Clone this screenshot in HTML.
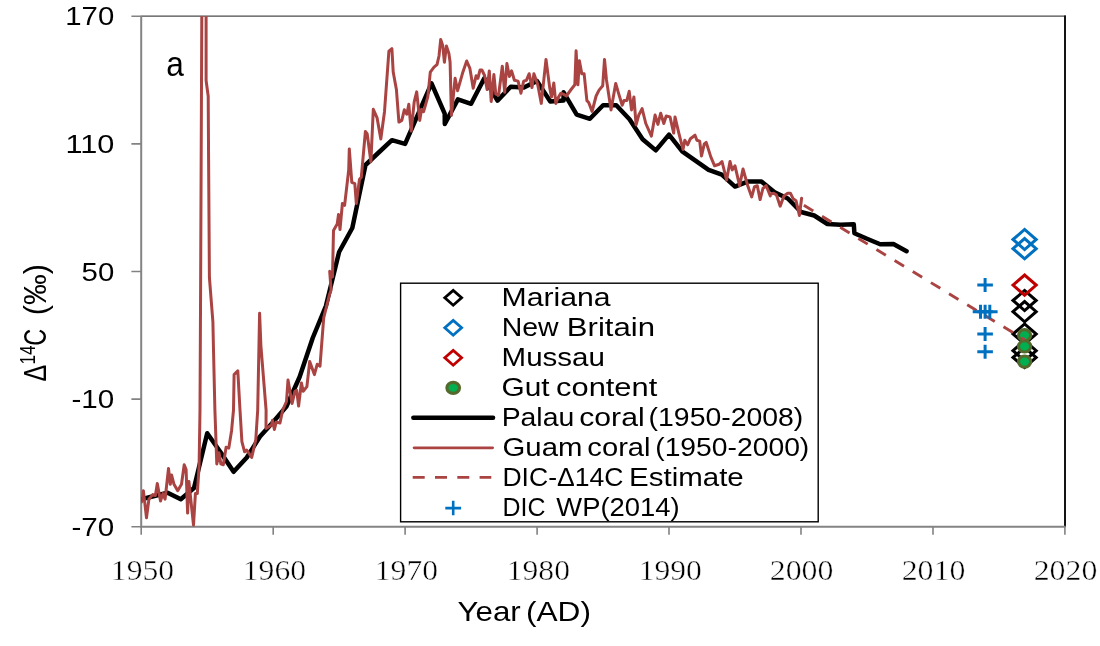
<!DOCTYPE html>
<html lang="en"><head><meta charset="utf-8"><title>Radiocarbon chart</title>
<style>html,body{margin:0;padding:0;background:#fff;overflow:hidden}svg{display:block;will-change:transform}.s{font-family:'Liberation Sans', sans-serif;fill:#000}.x{font-family:'Liberation Serif', serif;fill:#000;stroke:#fff;stroke-width:.45px}</style></head><body>
<svg width="1100" height="646" viewBox="0 0 1100 646">
<rect width="1100" height="646" fill="#fff"/>
<defs><clipPath id="pc"><rect x="141.2" y="16.3" width="923.7" height="510.4"/></clipPath></defs>
<path d="M141.2,16.2 H1065.8" fill="none" stroke="#4a4a4a" stroke-width="1.3"/>
<path d="M1065.0,15.6 V526.7" fill="none" stroke="#141414" stroke-width="2"/>
<path d="M141.2,15.7 V526.7 H1065.5" fill="none" stroke="#848484" stroke-width="2"/>
<path d="M131.4,16.3 H141.2 M131.4,143.9 H141.2 M131.4,271.5 H141.2 M131.4,399.1 H141.2 M131.4,526.7 H141.2 M141.2,526.7 V534.7 M273.2,526.7 V534.7 M405.1,526.7 V534.7 M537.1,526.7 V534.7 M669.0,526.7 V534.7 M801.0,526.7 V534.7 M933.0,526.7 V534.7 M1064.9,526.7 V534.7" fill="none" stroke="#828282" stroke-width="1.6"/>
<text class="s" y="25.34" font-size="26.01"><tspan x="65.30" textLength="48.93" lengthAdjust="spacingAndGlyphs">170</tspan></text>
<text class="s" y="152.94" font-size="26.01"><tspan x="65.40" textLength="48.91" lengthAdjust="spacingAndGlyphs">110</tspan></text>
<text class="s" y="280.54" font-size="26.01"><tspan x="81.63" textLength="32.64" lengthAdjust="spacingAndGlyphs">50</tspan></text>
<text class="s" y="408.14" font-size="26.01"><tspan x="71.47" textLength="42.75" lengthAdjust="spacingAndGlyphs">-10</tspan></text>
<text class="s" y="535.74" font-size="26.01"><tspan x="71.47" textLength="42.75" lengthAdjust="spacingAndGlyphs">-70</tspan></text>
<text class="x" y="579.91" font-size="28.59"><tspan x="110.83" textLength="63.25" lengthAdjust="spacingAndGlyphs">1950</tspan></text>
<text class="x" y="579.91" font-size="28.59"><tspan x="242.79" textLength="63.25" lengthAdjust="spacingAndGlyphs">1960</tspan></text>
<text class="x" y="579.91" font-size="28.59"><tspan x="374.75" textLength="63.25" lengthAdjust="spacingAndGlyphs">1970</tspan></text>
<text class="x" y="579.91" font-size="28.59"><tspan x="506.71" textLength="63.25" lengthAdjust="spacingAndGlyphs">1980</tspan></text>
<text class="x" y="579.91" font-size="28.59"><tspan x="638.67" textLength="63.25" lengthAdjust="spacingAndGlyphs">1990</tspan></text>
<text class="x" y="579.91" font-size="28.59"><tspan x="769.75" textLength="63.65" lengthAdjust="spacingAndGlyphs">2000</tspan></text>
<text class="x" y="579.91" font-size="28.59"><tspan x="901.71" textLength="63.65" lengthAdjust="spacingAndGlyphs">2010</tspan></text>
<text class="x" y="579.91" font-size="28.59"><tspan x="1033.67" textLength="63.65" lengthAdjust="spacingAndGlyphs">2020</tspan></text>
<text class="s" y="620.70" font-size="27.20"><tspan x="457.50" textLength="63.19" lengthAdjust="spacingAndGlyphs">Year</tspan> <tspan x="526.02" textLength="64.98" lengthAdjust="spacingAndGlyphs">(AD)</tspan></text>
<text class="s" y="75.65" font-size="35.25"><tspan x="166.25" textLength="17.60" lengthAdjust="spacingAndGlyphs">a</tspan></text>
<text class="s" transform="rotate(-90)" font-size="31.85"><tspan x="-381.45" y="46" textLength="16.71" lengthAdjust="spacingAndGlyphs">Δ</tspan><tspan x="-364.59" y="35.1" font-size="21.34" textLength="19.10" lengthAdjust="spacingAndGlyphs">14</tspan><tspan x="-345.87" y="46" textLength="16.95" lengthAdjust="spacingAndGlyphs">C</tspan> <tspan x="-315.22" y="46" textLength="51.30" lengthAdjust="spacingAndGlyphs">(‰)</tspan></text>
<g clip-path="url(#pc)">
<path d="M1013.0,300.5 L1024.6,290.4 L1036.2,300.5 L1024.6,310.6 Z" fill="none" stroke="#000" stroke-width="3" stroke-linejoin="miter"/>
<path d="M1013.0,311.7 L1024.6,301.6 L1036.2,311.7 L1024.6,321.8 Z" fill="none" stroke="#000" stroke-width="3" stroke-linejoin="miter"/>
<path d="M1013.0,334.0 L1024.6,323.9 L1036.2,334.0 L1024.6,344.1 Z" fill="none" stroke="#000" stroke-width="3" stroke-linejoin="miter"/>
<path d="M1013.0,350.7 L1024.6,340.6 L1036.2,350.7 L1024.6,360.8 Z" fill="none" stroke="#000" stroke-width="3" stroke-linejoin="miter"/>
<path d="M1013.0,357.5 L1024.6,347.4 L1036.2,357.5 L1024.6,367.6 Z" fill="none" stroke="#000" stroke-width="3" stroke-linejoin="miter"/>
<path d="M1013.0,239.5 L1024.6,229.4 L1036.2,239.5 L1024.6,249.6 Z" fill="none" stroke="#0070c0" stroke-width="3" stroke-linejoin="miter"/>
<path d="M1013.0,248.7 L1024.6,238.6 L1036.2,248.7 L1024.6,258.8 Z" fill="none" stroke="#0070c0" stroke-width="3" stroke-linejoin="miter"/>
<path d="M1013.0,285.1 L1024.6,275.0 L1036.2,285.1 L1024.6,295.2 Z" fill="none" stroke="#c00000" stroke-width="3" stroke-linejoin="miter"/>
<ellipse cx="1024.6" cy="335.2" rx="6.1" ry="5.6" fill="#00b050" stroke="#546a2c" stroke-width="3.1"/>
<ellipse cx="1024.6" cy="346.4" rx="6.1" ry="5.6" fill="#00b050" stroke="#546a2c" stroke-width="3.1"/>
<ellipse cx="1024.6" cy="361.6" rx="6.1" ry="5.6" fill="#00b050" stroke="#546a2c" stroke-width="3.1"/>
<path d="M141.2,499.2 L154.4,496.0 L167.6,492.7 L180.8,499.2 L194.0,488.0 L207.2,433.2 L220.4,452.0 L233.6,471.8 L246.8,457.5 L260.0,436.5 L273.2,422.0 L286.4,406.5 L299.6,377.0 L312.7,338.0 L325.9,306.0 L339.1,252.0 L352.3,228.0 L365.5,165.0 L378.7,152.5 L391.9,140.2 L405.1,143.9 L418.3,113.6 L431.5,83.3 L444.7,113.7 L444.8,123.9 L457.9,99.4 L471.1,103.8 L484.3,78.3 L497.5,100.6 L510.7,86.7 L523.9,87.6 L537.1,81.1 L550.3,101.5 L563.5,100.6 L563.6,92.3 L576.7,114.6 L589.9,118.8 L603.1,105.3 L616.3,105.3 L629.5,119.2 L642.6,139.2 L655.8,150.4 L669.0,134.6 L682.2,151.3 L695.4,160.6 L708.6,169.9 L721.8,174.6 L735.0,186.6 L748.2,181.4 L761.4,181.4 L774.6,192.2 L787.8,198.5 L801.0,212.0 L814.2,215.5 L827.4,224.0 L840.6,224.8 L853.8,224.3 L854.4,233.2 L867.0,238.7 L880.2,244.3 L893.4,244.0 L906.6,251.2" fill="none" stroke="#000" stroke-width="4.5" stroke-linejoin="round" stroke-linecap="round"/>
<path d="M141.5,502.0 L143.4,490.8 L146.5,517.8 L148.9,499.2 L152.7,494.6 L155.4,495.5 L157.3,483.4 L160.5,501.1 L162.9,493.6 L165.1,499.2 L168.5,468.5 L170.3,484.3 L171.6,475.0 L174.0,484.3 L177.7,490.8 L181.5,484.3 L184.2,464.8 L186.1,469.5 L187.6,513.1 L188.9,481.5 L193.5,525.2 L195.4,493.6 L197.3,493.6 L199.1,465.8 L200.0,410.0 L200.6,290.0 L201.8,16.0 L202.0,-40.0 L205.0,-40.0 L206.1,16.0 L206.1,80.5 L208.2,96.3 L208.6,160.0 L209.4,277.4 L212.9,322.0 L213.5,350.0 L214.9,410.0 L216.8,463.9 L219.0,452.7 L220.9,463.9 L223.3,464.8 L226.1,447.2 L228.8,448.1 L231.6,430.4 L233.5,410.0 L234.1,374.6 L237.8,370.8 L240.0,410.1 L240.0,410.0 L241.9,441.6 L244.6,451.8 L246.5,450.0 L249.3,453.7 L251.7,457.4 L255.8,439.7 L257.7,410.0 L259.6,313.2 L260.9,345.8 L266.1,410.1 L266.0,428.6 L271.6,424.9 L272.5,420.2 L274.4,429.5 L276.2,422.1 L280.0,423.0 L282.7,410.0 L286.5,401.5 L288.0,380.1 L292.1,403.4 L294.9,391.3 L296.7,390.4 L298.6,406.1 L301.4,382.9 L303.2,391.3 L306.9,386.6 L309.7,361.5 L314.4,374.6 L317.2,364.3 L320.0,366.2 L323.7,317.9 L329.2,295.6 L331.1,290.0 L329.7,271.3 L332.5,276.9 L333.5,230.4 L337.2,223.9 L338.5,214.6 L340.0,229.5 L342.4,203.5 L344.6,205.3 L348.7,170.0 L349.3,148.9 L351.8,182.3 L354.8,183.6 L356.3,203.5 L359.5,179.3 L361.3,177.4 L365.4,131.5 L367.2,134.0 L370.9,161.8 L373.3,109.3 L377.1,117.9 L380.8,139.0 L384.5,111.7 L388.9,51.1 L391.9,48.6 L393.2,72.1 L396.4,89.4 L398.9,122.1 L401.8,120.4 L404.3,109.8 L406.8,114.2 L408.8,104.3 L411.2,131.1 L414.2,101.8 L416.7,91.9 L419.7,120.4 L421.6,109.3 L423.6,111.7 L427.8,96.9 L430.3,72.1 L434.0,67.2 L437.0,64.7 L439.0,56.0 L440.7,39.4 L442.7,45.4 L444.4,62.2 L446.4,46.1 L448.9,53.5 L450.1,62.2 L451.4,115.4 L455.1,78.3 L457.6,90.7 L462.5,73.3 L466.7,61.0 L469.9,68.4 L473.2,88.2 L476.1,75.8 L477.9,78.3 L480.0,70.0 L481.9,70.0 L484.6,75.5 L487.1,89.5 L489.3,70.9 L491.2,101.5 L493.9,74.6 L495.8,94.1 L498.6,95.0 L502.3,66.2 L504.7,92.3 L506.9,63.5 L509.4,76.5 L511.6,70.9 L514.4,80.2 L518.1,81.1 L520.9,93.2 L523.7,81.1 L526.5,80.2 L529.2,73.7 L532.0,87.6 L533.9,73.7 L537.6,83.9 L541.3,103.4 L546.0,59.4 L549.7,87.6 L551.5,96.9 L553.8,83.0 L555.8,103.4 L558.1,97.8 L560.8,93.2 L563.3,94.1 L566.4,96.0 L571.1,89.5 L574.8,84.8 L576.1,50.8 L577.9,84.8 L579.4,60.7 L581.8,73.7 L584.1,73.7 L586.9,100.6 L588.7,102.5 L592.1,111.4 L596.1,96.0 L598.9,90.4 L602.7,85.8 L604.5,59.4 L606.4,79.2 L611.0,109.9 L615.7,83.5 L618.5,93.2 L622.2,105.3 L624.0,100.6 L626.8,100.6 L629.2,91.3 L631.5,109.9 L633.9,96.9 L636.1,124.8 L638.9,114.6 L639.3,114.2 L642.1,108.6 L645.8,123.5 L651.4,136.1 L655.1,115.1 L657.9,124.4 L660.7,113.2 L663.8,123.5 L666.2,116.0 L670.0,116.9 L673.7,133.1 L675.0,116.9 L678.7,132.7 L683.0,149.5 L684.8,140.2 L687.6,144.8 L690.4,138.7 L695.0,135.2 L696.9,140.2 L699.7,141.1 L701.5,156.0 L704.3,143.9 L706.2,142.4 L710.8,156.9 L714.6,165.8 L719.2,164.3 L722.0,161.5 L726.6,180.1 L730.0,161.5 L732.2,169.9 L735.0,165.8 L739.6,185.7 L743.0,169.0 L748.0,186.6 L751.7,196.9 L754.5,186.6 L757.3,185.7 L760.1,199.6 L762.9,188.5 L766.2,185.7 L770.3,195.9 L770.0,194.2 L773.7,193.2 L776.5,195.1 L780.2,206.2 L783.9,196.0 L787.7,193.2 L790.4,193.2 L793.2,198.8 L796.0,200.7 L799.4,215.5 L801.6,198.2" fill="none" stroke="#a94442" stroke-width="3" stroke-linejoin="round" stroke-linecap="round"/>
<path d="M802.5,204.4 L1024.6,339.7" fill="none" stroke="#a94442" stroke-width="2.9" stroke-dasharray="11 10.25" stroke-dashoffset="-1.6"/>
<path d="M977.3,285.1 H992.9 M985.1,278.1 V292.1" fill="none" stroke="#0070c0" stroke-width="3"/>
<path d="M972.7,311.7 H988.3 M980.5,304.7 V318.7" fill="none" stroke="#0070c0" stroke-width="3"/>
<path d="M977.3,311.7 H992.9 M985.1,304.7 V318.7" fill="none" stroke="#0070c0" stroke-width="3"/>
<path d="M982.0,311.7 H997.6 M989.8,304.7 V318.7" fill="none" stroke="#0070c0" stroke-width="3"/>
<path d="M977.3,334.0 H992.9 M985.1,327.0 V341.0" fill="none" stroke="#0070c0" stroke-width="3"/>
<path d="M977.3,351.7 H992.9 M985.1,344.7 V358.7" fill="none" stroke="#0070c0" stroke-width="3"/>
</g>
<rect x="400.6" y="283.2" width="417.6" height="238.6" fill="#fff" stroke="#000" stroke-width="1.4"/>
<path d="M444.8,297.8 L453.2,290.4 L461.6,297.8 L453.2,305.2 Z" fill="none" stroke="#000" stroke-width="2.8" stroke-linejoin="miter"/>
<path d="M444.8,327.8 L453.2,320.4 L461.6,327.8 L453.2,335.2 Z" fill="none" stroke="#0070c0" stroke-width="2.8" stroke-linejoin="miter"/>
<path d="M444.8,357.8 L453.2,350.4 L461.6,357.8 L453.2,365.2 Z" fill="none" stroke="#c00000" stroke-width="2.8" stroke-linejoin="miter"/>
<ellipse cx="453.2" cy="387.8" rx="6.3" ry="5.5" fill="#00b050" stroke="#546a2c" stroke-width="3.2"/>
<path d="M413.3,417.8 H493.1" stroke="#000" stroke-width="4.4" stroke-linecap="round"/>
<path d="M414.1,447.8 H492.6" stroke="#a94442" stroke-width="2.8" stroke-linecap="round"/>
<path d="M412.7,477.4 H491.3" stroke="#a94442" stroke-width="2.8" stroke-dasharray="12 10.3"/>
<path d="M445.3,508.1 H461.1 M453.2,500.8 V515.3" fill="none" stroke="#0070c0" stroke-width="2.6"/>
<text class="s" y="306.40" font-size="24.87"><tspan x="501.51" textLength="109.03" lengthAdjust="spacingAndGlyphs">Mariana</tspan></text>
<text class="s" y="336.40" font-size="24.87"><tspan x="501.65" textLength="56.89" lengthAdjust="spacingAndGlyphs">New</tspan> <tspan x="566.83" textLength="88.17" lengthAdjust="spacingAndGlyphs">Britain</tspan></text>
<text class="s" y="366.40" font-size="24.87"><tspan x="501.56" textLength="103.40" lengthAdjust="spacingAndGlyphs">Mussau</tspan></text>
<text class="s" y="396.40" font-size="24.87"><tspan x="501.51" textLength="48.10" lengthAdjust="spacingAndGlyphs">Gut</tspan> <tspan x="556.09" textLength="101.15" lengthAdjust="spacingAndGlyphs">content</tspan></text>
<text class="s" y="426.40" font-size="24.87"><tspan x="501.66" textLength="72.59" lengthAdjust="spacingAndGlyphs">Palau</tspan> <tspan x="579.22" textLength="65.42" lengthAdjust="spacingAndGlyphs">coral</tspan> <tspan x="648.63" textLength="154.70" lengthAdjust="spacingAndGlyphs">(1950-2008)</tspan></text>
<text class="s" y="456.40" font-size="24.87"><tspan x="502.53" textLength="79.89" lengthAdjust="spacingAndGlyphs">Guam</tspan> <tspan x="587.36" textLength="63.21" lengthAdjust="spacingAndGlyphs">coral</tspan> <tspan x="655.23" textLength="154.09" lengthAdjust="spacingAndGlyphs">(1950-2000)</tspan></text>
<text class="s" y="486.40" font-size="24.87"><tspan x="502.41" textLength="121.09" lengthAdjust="spacingAndGlyphs">DIC-Δ14C</tspan> <tspan x="629.07" textLength="114.69" lengthAdjust="spacingAndGlyphs">Estimate</tspan></text>
<text class="s" y="516.40" font-size="24.87"><tspan x="502.55" textLength="42.88" lengthAdjust="spacingAndGlyphs">DIC</tspan> <tspan x="556.36" textLength="123.32" lengthAdjust="spacingAndGlyphs">WP(2014)</tspan></text>
</svg></body></html>
